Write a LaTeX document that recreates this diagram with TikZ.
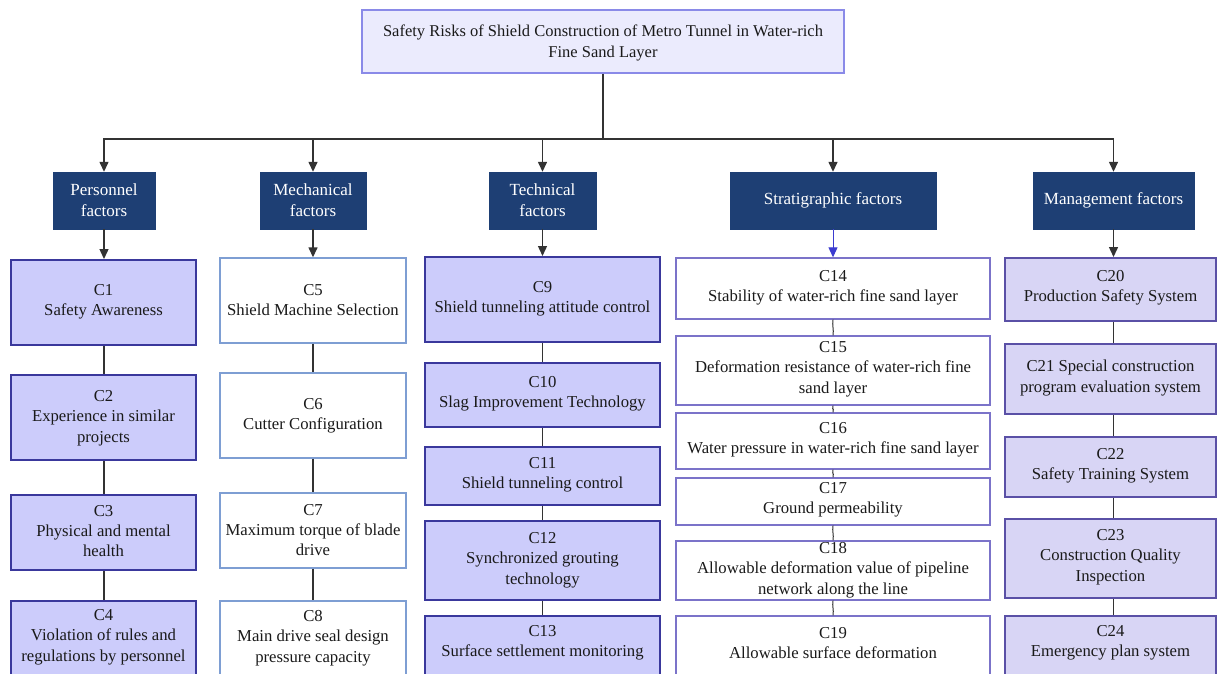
\documentclass[tikz,border=0pt]{standalone}
\usepackage{fontspec}
\setmainfont{Liberation Serif}
\usetikzlibrary{arrows.meta,calc}
\definecolor{navy}{HTML}{1E3F74}
\definecolor{lavA}{HTML}{CCCCFB}
\definecolor{bordA}{HTML}{3A389C}
\definecolor{lavE}{HTML}{D8D5F5}
\definecolor{bordE}{HTML}{5A50A6}
\definecolor{bordB}{HTML}{7E9ED3}
\definecolor{bordD}{HTML}{7B73C9}
\definecolor{topfill}{HTML}{EBEBFD}
\definecolor{topbord}{HTML}{8A8AE8}
\definecolor{txt}{HTML}{1A1A1A}
\definecolor{lnc}{HTML}{333333}
\definecolor{bluearr}{HTML}{3B3BD0}
\tikzset{
  lbl/.style={align=center, text=txt, font=\fontsize{16.7}{20.3}\selectfont, inner sep=0pt},
  topbox/.style={draw=topbord, fill=topfill, line width=1.5pt, inner sep=0pt},
  cat/.style={fill=navy, draw=navy, text=white, align=center, font=\fontsize{17}{21}\selectfont, inner sep=0pt},
  bxA/.style={draw=bordA, fill=lavA, line width=2pt, inner sep=0pt},
  bxB/.style={draw=bordB, fill=white, line width=1.4pt, inner sep=0pt},
  bxD/.style={draw=bordD, fill=white, line width=1.4pt, inner sep=0pt},
  bxE/.style={draw=bordE, fill=lavE, line width=2pt, inner sep=0pt},
  conn/.style={draw=lnc, line width=1.4pt},
  arr/.style={conn, -{Triangle[width=9pt,length=10pt]}},
}
\newcommand\mybox[8]{%
  \node[#2, minimum width={(#4-#3)*1pt}, minimum height={(#6-#5)*1pt}] (#1) at ({(#3+#4)/2},{(#5+#6)/2}) {};
  \node[lbl] (#1t) at ({(#3+#4)/2},#7) {#8};}
\newcommand\catbox[6]{%
  \node[cat, minimum width={(#3-#2)*1pt}, minimum height={(#5-#4)*1pt}] (#1) at ({(#2+#3)/2},{(#4+#5)/2}) {#6};}
\begin{document}
\begin{tikzpicture}[x=1pt,y=-1pt]
\useasboundingbox (0,0) rectangle (1218,674);
\clip (0,0) rectangle (1218,674);
\fill[white] (0,0) rectangle (1218,674);

% top
\node[topbox, minimum width=482pt, minimum height=63pt] (top) at (603,41.5) {};
\node[lbl, font=\fontsize{16.5}{21}\selectfont] (topt) at (603,42.5) {Safety Risks of Shield Construction of Metro Tunnel in Water-rich\\Fine Sand Layer};

% categories
\catbox{pers}{53}{155}{172}{229}{Personnel\\factors}
\catbox{mech}{260}{366}{172}{229}{Mechanical\\factors}
\catbox{tech}{489}{596}{172}{229}{Technical\\factors}
\catbox{strat}{730}{936}{172}{229}{Stratigraphic factors}
\catbox{mgmt}{1033}{1194}{172}{229}{Management factors}

\coordinate (hub) at (603,139);
\draw[conn] (top.south) -- (hub);
\draw[arr] (hub) -| (pers.north);
\draw[arr] (hub) -| (mech.north);
\draw[arr] (hub) -| (tech.north);
\draw[arr] (hub) -| (strat.north);
\draw[arr] (hub) -| (mgmt.north);

% column 1
\mybox{c1}{bxA}{11}{196}{260}{345}{302}{C1\\Safety Awareness}
\mybox{c2}{bxA}{11}{196}{375}{460}{418}{C2\\Experience in similar\\projects}
\mybox{c3}{bxA}{11}{196}{495}{570}{531}{C3\\Physical and mental\\health}
\mybox{c4}{bxA}{11}{196}{601}{684}{637}{C4\\Violation of rules and\\regulations by personnel}

% column 2
\mybox{c5}{bxB}{220}{406}{258}{343}{300}{C5\\Shield Machine Selection}
\mybox{c6}{bxB}{220}{406}{373}{458}{416}{C6\\Cutter Configuration}
\mybox{c7}{bxB}{220}{406}{493}{568}{530}{C7\\Maximum torque of blade\\drive}
\mybox{c8}{bxB}{220}{406}{601}{684}{638}{C8\\Main drive seal design\\pressure capacity}

% column 3
\mybox{c9}{bxA}{425}{660}{257}{342}{299}{C9\\Shield tunneling attitude control}
\mybox{c10}{bxA}{425}{660}{363}{427}{394}{C10\\Slag Improvement Technology}
\mybox{c11}{bxA}{425}{660}{447}{505}{475}{C11\\Shield tunneling control}
\mybox{c12}{bxA}{425}{660}{521}{600}{560}{C12\\Synchronized grouting\\technology}
\mybox{c13}{bxA}{425}{660}{616}{684}{643}{C13\\Surface settlement monitoring}

% column 4
\mybox{c14}{bxD}{676}{990}{258}{319}{288}{C14\\Stability of water-rich fine sand layer}
\mybox{c15}{bxD}{676}{990}{336}{405}{369}{C15\\Deformation resistance of water-rich fine\\sand layer}
\mybox{c16}{bxD}{676}{990}{413}{469}{440}{C16\\Water pressure in water-rich fine sand layer}
\mybox{c17}{bxD}{676}{990}{478}{525}{500}{C17\\Ground permeability}
\mybox{c18}{bxD}{676}{990}{541}{600}{570}{C18\\Allowable deformation value of pipeline\\network along the line}
\mybox{c19}{bxD}{676}{990}{616}{684}{643}{C19\\Allowable surface deformation}

% column 5
\mybox{c20}{bxE}{1005}{1216}{258}{321}{288}{C20\\Production Safety System}
\mybox{c21}{bxE}{1005}{1216}{344}{414}{378}{C21 Special construction\\program evaluation system}
\mybox{c22}{bxE}{1005}{1216}{437}{497}{466}{C22\\Safety Training System}
\mybox{c23}{bxE}{1005}{1216}{519}{598}{557}{C23\\Construction Quality\\Inspection}
\mybox{c24}{bxE}{1005}{1216}{616}{684}{643}{C24\\Emergency plan system}

% category to first items
\draw[arr] (pers.south) -- (c1.north -| pers);
\draw[arr] (mech.south) -- (c5.north -| mech);
\draw[arr] (tech.south) -- (c9.north -| tech);
\draw[arr, draw=bluearr, fill=bluearr, line width=1pt] (strat.south) -- (c14.north -| strat);
\draw[arr] (mgmt.south) -- (c20.north -| mgmt);

% chains
\foreach \a/\b/\k in {c1/c2/pers,c2/c3/pers,c3/c4/pers,
                      c5/c6/mech,c6/c7/mech,c7/c8/mech,
                      c9/c10/tech,c10/c11/tech,c11/c12/tech,c12/c13/tech,
                      c20/c21/mgmt,c21/c22/mgmt,c22/c23/mgmt,c23/c24/mgmt}
  \draw[conn] (\a.south -| \k) -- (\b.north -| \k);
\foreach \a/\b in {c14/c15,c15/c16,c16/c17,c17/c18,c18/c19}
  \draw[conn, line width=1pt] (\a.south -| strat) .. controls ($(\a.south -| strat)+(-1,6)$) and ($(\b.north -| strat)+(1,-6)$) .. (\b.north -| strat);
\end{tikzpicture}
\end{document}
